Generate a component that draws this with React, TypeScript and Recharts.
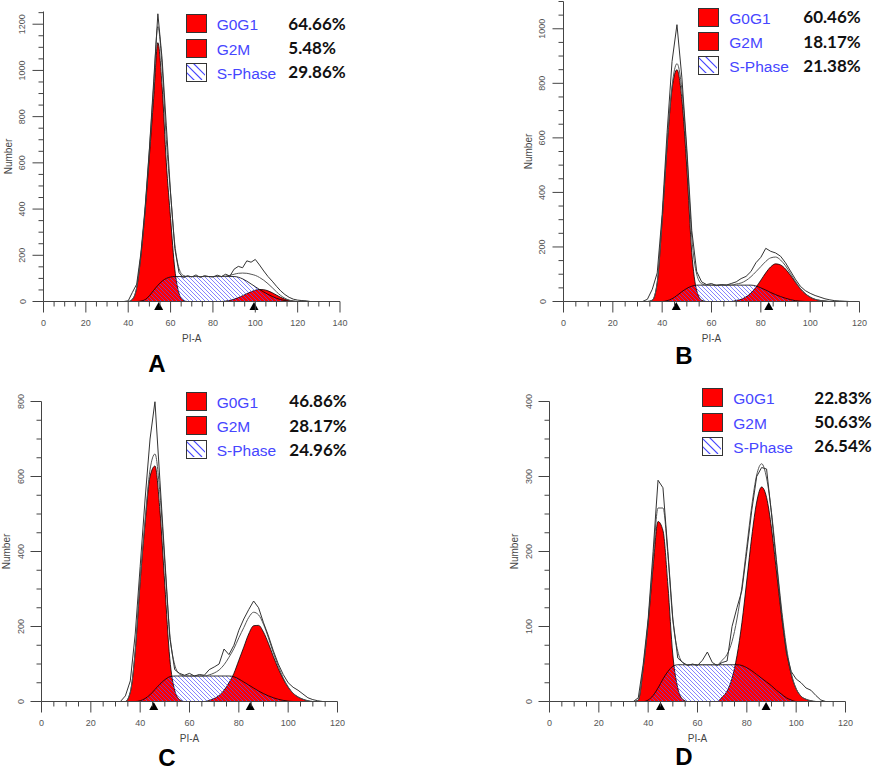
import { Area, ComposedChart, Line, ReferenceDot, XAxis, YAxis } from "recharts";

// PI-A channel grid of each histogram
const X_A = [36, 38, 40, 42, 44, 46, 48, 50, 52, 54, 56, 58, 60, 62, 64, 66, 68, 70, 72, 74, 76, 78, 80, 82, 84, 86, 88, 90, 92, 94, 96, 98, 100, 102, 104, 106, 108, 110, 112, 114, 116, 118, 120, 122, 124, 126, 128, 130];
const X_BCD = [30, 32, 34, 36, 38, 40, 42, 44, 46, 48, 50, 52, 54, 56, 58, 60, 62, 64, 66, 68, 70, 72, 74, 76, 78, 80, 82, 84, 86, 88, 90, 92, 94, 96, 98, 100, 102, 104, 106, 108, 110, 112, 114, 116, 118];

// panel A
const A_G0G1 = [0, 0, 0, 10, 60, 200, 395, 630, 880, 1120, 930, 600, 360, 140, 35, 5, 0, 0, 0, 0, 0, 0, 0, 0, 0, 0, 0, 0, 0, 0, 0, 0, 0, 0, 0, 0, 0, 0, 0, 0, 0, 0, 0, 0, 0, 0, 0, 0];
const A_S = [0, 0, 0, 0, 0, 2, 8, 25, 48, 70, 88, 100, 106, 108, 108, 108, 108, 108, 108, 108, 108, 108, 108, 108, 108, 108, 108, 108, 105, 98, 88, 76, 64, 52, 41, 31, 22, 14, 8, 4, 1, 0, 0, 0, 0, 0, 0, 0];
const A_G2M = [0, 0, 0, 0, 0, 0, 0, 0, 0, 0, 0, 0, 0, 0, 0, 0, 0, 0, 0, 0, 0, 0, 0, 0, 0, 2, 5, 10, 17, 25, 34, 42, 49, 52, 51, 46, 38, 28, 18, 10, 5, 2, 0, 0, 0, 0, 0, 0];
const A_FIT = [0, 0, 0, 10, 60, 202, 403, 655, 928, 1190, 1018, 700, 466, 248, 143, 113, 108, 108, 108, 108, 108, 108, 108, 108, 108, 110, 113, 118, 122, 123, 122, 118, 113, 104, 92, 77, 60, 42, 26, 14, 6, 2, 0, 0, 0, 0, 0, 0];
const A_RAW = [0, 0, 3, 40, 75, 210, 410, 660, 950, 1245, 1050, 760, 470, 230, 125, 102, 112, 106, 115, 104, 112, 108, 106, 114, 108, 118, 110, 140, 152, 146, 176, 170, 182, 158, 132, 108, 88, 66, 46, 30, 18, 10, 6, 4, 3, 0, 0, 0];

// panel B
const B_G0G1 = [0, 0, 0, 5, 70, 300, 570, 780, 850, 740, 490, 180, 40, 5, 0, 0, 0, 0, 0, 0, 0, 0, 0, 0, 0, 0, 0, 0, 0, 0, 0, 0, 0, 0, 0, 0, 0, 0, 0, 0, 0, 0, 0, 0, 0];
const B_S = [0, 0, 0, 0, 0, 0, 3, 10, 22, 36, 48, 56, 60, 60, 60, 60, 60, 60, 60, 60, 60, 60, 60, 60, 57, 50, 42, 33, 25, 18, 12, 7, 3, 1, 0, 0, 0, 0, 0, 0, 0, 0, 0, 0, 0];
const B_G2M = [0, 0, 0, 0, 0, 0, 0, 0, 0, 0, 0, 0, 0, 0, 0, 0, 0, 0, 0, 0, 4, 8, 17, 31, 52, 78, 105, 127, 138, 134, 119, 96, 71, 47, 29, 16, 8, 4, 2, 0, 0, 0, 0, 0, 0];
const B_FIT = [0, 0, 0, 5, 70, 300, 573, 790, 872, 776, 538, 236, 100, 65, 60, 60, 60, 60, 60, 60, 64, 68, 77, 91, 109, 128, 147, 160, 163, 152, 131, 103, 74, 48, 29, 16, 8, 4, 2, 0, 0, 0, 0, 0, 0];
const B_RAW = [0, 0, 8, 45, 105, 320, 620, 880, 1015, 820, 560, 260, 110, 72, 62, 66, 58, 62, 60, 66, 72, 84, 92, 110, 142, 162, 195, 184, 178, 166, 142, 112, 82, 56, 40, 30, 22, 16, 10, 6, 3, 2, 1, 0, 0];

// panel C
const C_G0G1 = [0, 0, 0, 25, 135, 320, 476, 600, 628, 510, 310, 115, 30, 5, 0, 0, 0, 0, 0, 0, 0, 0, 0, 0, 0, 0, 0, 0, 0, 0, 0, 0, 0, 0, 0, 0, 0, 0, 0, 0, 0, 0, 0, 0, 0];
const C_S = [0, 0, 0, 0, 0, 2, 8, 18, 32, 46, 58, 66, 68, 68, 68, 68, 68, 68, 68, 68, 68, 68, 68, 68, 66, 60, 52, 44, 36, 28, 21, 15, 10, 6, 3, 1, 0, 0, 0, 0, 0, 0, 0, 0, 0];
const C_G2M = [0, 0, 0, 0, 0, 0, 0, 0, 0, 0, 0, 0, 0, 0, 0, 0, 0, 0, 0, 3, 8, 16, 30, 50, 75, 110, 145, 180, 202, 203, 185, 155, 120, 88, 60, 38, 22, 12, 6, 2, 0, 0, 0, 0, 0];
const C_FIT = [0, 0, 0, 25, 135, 322, 484, 618, 660, 556, 368, 181, 98, 73, 68, 68, 68, 68, 68, 71, 76, 84, 98, 118, 141, 170, 197, 224, 238, 231, 206, 170, 130, 94, 63, 39, 22, 12, 6, 2, 0, 0, 0, 0, 0];
const C_RAW = [0, 0, 15, 55, 180, 360, 540, 700, 800, 590, 380, 170, 85, 75, 70, 75, 68, 72, 70, 85, 92, 100, 140, 125, 150, 190, 220, 245, 268, 250, 210, 175, 135, 100, 72, 50, 38, 30, 20, 10, 5, 2, 0, 0, 0];

// panel D
const D_G0G1 = [0, 0, 0, 2, 45, 105, 180, 240, 228, 155, 62, 18, 3, 0, 0, 0, 0, 0, 0, 0, 0, 0, 0, 0, 0, 0, 0, 0, 0, 0, 0, 0, 0, 0, 0, 0, 0, 0, 0, 0, 0, 0, 0, 0, 0];
const D_S = [0, 0, 0, 0, 0, 2, 8, 18, 30, 40, 47, 49, 49, 49, 49, 49, 49, 49, 49, 49, 49, 49, 49, 49, 48, 45, 41, 36, 31, 26, 21, 15, 10, 5, 2, 0, 0, 0, 0, 0, 0, 0, 0, 0, 0];
const D_G2M = [0, 0, 0, 0, 0, 0, 0, 0, 0, 0, 0, 0, 0, 0, 0, 0, 0, 0, 0, 0, 6, 14, 31, 61, 105, 162, 220, 266, 286, 272, 231, 174, 116, 69, 36, 17, 7, 3, 1, 0, 0, 0, 0, 0, 0];
const D_FIT = [0, 0, 0, 2, 45, 107, 188, 258, 258, 195, 109, 67, 52, 49, 49, 49, 49, 49, 49, 49, 55, 63, 80, 110, 153, 207, 261, 302, 317, 298, 252, 189, 126, 74, 38, 17, 7, 3, 1, 0, 0, 0, 0, 0, 0];
const D_RAW = [0, 0, 0, 5, 50, 110, 200, 295, 285, 200, 110, 58, 52, 48, 50, 48, 55, 66, 52, 48, 52, 54, 100, 125, 148, 200, 255, 300, 312, 310, 250, 185, 120, 65, 40, 30, 25, 18, 15, 8, 2, 0, 0, 0, 0];

// G0G1 / G2M peak markers
const A_MARKS = [54.4, 99.4];
const B_MARKS = [45.7, 83.2];
const C_MARKS = [45.5, 84.6];
const D_MARKS = [45, 87.8];

const X_TICKS_140 = [0, 5, 10, 15, 20, 25, 30, 35, 40, 45, 50, 55, 60, 65, 70, 75, 80, 85, 90, 95, 100, 105, 110, 115, 120, 125, 130, 135, 140];
const X_TICKS_120 = [0, 5, 10, 15, 20, 25, 30, 35, 40, 45, 50, 55, 60, 65, 70, 75, 80, 85, 90, 95, 100, 105, 110, 115, 120];
const Y_TICKS_A = [0, 50, 100, 150, 200, 250, 300, 350, 400, 450, 500, 550, 600, 650, 700, 750, 800, 850, 900, 950, 1000, 1050, 1100, 1150, 1200, 1250];
const Y_TICKS_B = [0, 50, 100, 150, 200, 250, 300, 350, 400, 450, 500, 550, 600, 650, 700, 750, 800, 850, 900, 950, 1000, 1050, 1100];
const Y_TICKS_C = [0, 50, 100, 150, 200, 250, 300, 350, 400, 450, 500, 550, 600, 650, 700, 750, 800];
const Y_TICKS_D = [0, 25, 50, 75, 100, 125, 150, 175, 200, 225, 250, 275, 300, 325, 350, 375, 400];

const PHASES = ["G0G1", "G2M", "S-Phase"];
const A_PCT = ["64.66%", "5.48%", "29.86%"];
const B_PCT = ["60.46%", "18.17%", "21.38%"];
const C_PCT = ["46.86%", "28.17%", "24.96%"];
const D_PCT = ["22.83%", "50.63%", "26.54%"];

const RED = "#ff0000";
const BLUE = "#4646ff";
const HATCH = "#5050ff";
const AXIS = "#444";
const FONT = '"Liberation Sans", Arial, sans-serif';
const YW = 40;
const XH = 45;

function XTick(props: any) {
  const { x, y, payload } = props;
  const major = payload.value % 20 === 0;
  return (
    <g>
      <line x1={x} x2={x} y1={y} y2={y + (major ? 11 : 5)} stroke={AXIS} />
      {major && (
        <text x={x} y={y + 24.5} textAnchor="middle" fontSize={9} fill="#555" fontFamily={FONT}>
          {payload.value}
        </text>
      )}
    </g>
  );
}

function YTick(props: any) {
  const { x, y, payload, step } = props;
  const major = payload.value % step === 0;
  const tx = x - 18;
  return (
    <g>
      <line x1={x - (major ? 11 : 5)} x2={x} y1={y} y2={y} stroke={AXIS} />
      {major && (
        <text
          x={tx}
          y={y}
          transform={`rotate(-90 ${tx} ${y})`}
          textAnchor="middle"
          fontSize={9}
          fill="#555"
          fontFamily={FONT}
        >
          {payload.value}
        </text>
      )}
    </g>
  );
}

const Marker = (p: any) => (
  <path d={`M${p.cx},${p.cy + 0.5} L${p.cx - 4.5},${p.cy + 8.5} L${p.cx + 4.5},${p.cy + 8.5} Z`} fill="#000" />
);

function Panel(p: any) {
  const rows = p.xs.map((x: number, i: number) => ({
    x,
    g1: p.g1[i],
    g2: p.g2[i],
    s: p.s[i],
    fit: p.fit[i],
    raw: p.raw[i],
  }));
  const margin = {
    left: p.plot.x - p.box.left - YW,
    top: p.plot.y - p.box.top,
    right: p.box.left + p.box.w - p.plot.x - p.plot.w,
    bottom: p.box.top + p.box.h - p.plot.y - p.plot.h - XH,
  };
  const hatch = `hatch-${p.id}`;
  return (
    <div style={{ position: "absolute", left: p.box.left, top: p.box.top }}>
      <ComposedChart width={p.box.w} height={p.box.h} data={rows} margin={margin} style={{ fontFamily: FONT }}>
        <defs>
          <pattern id={hatch} patternUnits="userSpaceOnUse" width={4} height={4}>
            <path d="M-1,-1 L5,5 M3,-1 L5,1 M-1,3 L1,5" stroke={HATCH} strokeWidth={0.7} />
          </pattern>
        </defs>
        <XAxis
          type="number"
          dataKey="x"
          domain={[0, p.xMax]}
          ticks={p.xTicks}
          interval={0}
          height={XH}
          tickSize={0}
          tickMargin={0}
          tickLine={false}
          axisLine={{ stroke: AXIS }}
          tick={(t: any) => <XTick {...t} />}
          allowDataOverflow
          label={{ value: "PI-A", position: "insideBottom", offset: 5, fontSize: 10, fill: "#444" }}
        />
        <YAxis
          type="number"
          domain={[0, p.yMax]}
          ticks={p.yTicks}
          interval={0}
          width={YW}
          tickSize={0}
          tickMargin={0}
          tickLine={false}
          axisLine={{ stroke: AXIS }}
          tick={(t: any) => <YTick {...t} step={p.yStep} />}
          allowDataOverflow
          label={{
            value: "Number",
            angle: -90,
            position: "insideLeft",
            offset: 4.5,
            fontSize: 10,
            fill: "#444",
            style: { textAnchor: "middle" },
          }}
        />
        <Area dataKey="g1" type="monotone" fill={RED} fillOpacity={1} stroke="#000" strokeWidth={0.8} dot={false} activeDot={false} isAnimationActive={false} />
        <Area dataKey="g2" type="monotone" fill={RED} fillOpacity={1} stroke="#000" strokeWidth={0.8} dot={false} activeDot={false} isAnimationActive={false} />
        <Area dataKey="s" type="monotone" fill={`url(#${hatch})`} fillOpacity={1} stroke="#000" strokeWidth={0.8} dot={false} activeDot={false} isAnimationActive={false} />
        <Line dataKey="fit" type="monotone" stroke="#555" strokeWidth={1} dot={false} activeDot={false} isAnimationActive={false} />
        <Line dataKey="raw" type="linear" stroke="#333" strokeWidth={1} dot={false} activeDot={false} isAnimationActive={false} />
        {p.marks.map((m: number) => (
          <ReferenceDot key={m} x={m} y={0} r={0} shape={Marker} ifOverflow="visible" />
        ))}
      </ComposedChart>
    </div>
  );
}

function PhaseLegend(p: any) {
  return (
    <>
      {PHASES.map((name, i) => {
        const top = p.top + i * 24.3;
        return (
          <div key={name}>
            <div
              style={{
                position: "absolute",
                left: p.box,
                top,
                width: 21,
                height: 19,
                boxSizing: "border-box",
                border: "1.5px solid #333",
                background: i < 2 ? RED : "#fff",
                overflow: "hidden",
              }}
            >
              {i === 2 && (
                <svg width={18} height={16} style={{ display: "block" }}>
                  <path d="M-2,-1 L15,16 M6,-1 L23,16 M-2,7 L8,17" stroke={BLUE} strokeWidth={1.2} />
                </svg>
              )}
            </div>
            <div
              style={{
                position: "absolute",
                left: p.text,
                top: top + 1,
                height: 19,
                lineHeight: "19px",
                fontSize: 15.5,
                color: BLUE,
                fontFamily: FONT,
                whiteSpace: "nowrap",
              }}
            >
              {name}
            </div>
            <div
              style={{
                position: "absolute",
                left: p.pct,
                top: top - 0.5,
                height: 19,
                lineHeight: "19px",
                fontSize: 17,
                fontWeight: 700,
                color: "#111",
                fontFamily: "Lato, sans-serif",
                whiteSpace: "nowrap",
              }}
            >
              {p.values[i]}
            </div>
          </div>
        );
      })}
    </>
  );
}

function Letter({ x, top, children }: any) {
  return (
    <div
      style={{
        position: "absolute",
        left: x - 20,
        top,
        width: 40,
        height: 18,
        textAlign: "center",
        fontFamily: FONT,
        fontWeight: 700,
        fontSize: 24,
        lineHeight: "18px",
        color: "#000",
      }}
    >
      {children}
    </div>
  );
}

export default function App() {
  return (
    <div style={{ position: "absolute", left: 0, top: 0, width: 880, height: 771, background: "#fff", overflow: "hidden" }}>
      <Panel
        id="a"
        box={{ left: 0, top: 0, w: 440, h: 390 }}
        plot={{ x: 43.5, y: 11.5, w: 296.5, h: 290 }}
        xMax={140}
        xTicks={X_TICKS_140}
        yMax={1255}
        yTicks={Y_TICKS_A}
        yStep={200}
        xs={X_A}
        g1={A_G0G1}
        g2={A_G2M}
        s={A_S}
        fit={A_FIT}
        raw={A_RAW}
        marks={A_MARKS}
      />
      <Panel
        id="b"
        box={{ left: 440, top: 0, w: 440, h: 390 }}
        plot={{ x: 563.5, y: 1.5, w: 296, h: 300 }}
        xMax={120}
        xTicks={X_TICKS_120}
        yMax={1100}
        yTicks={Y_TICKS_B}
        yStep={200}
        xs={X_BCD}
        g1={B_G0G1}
        g2={B_G2M}
        s={B_S}
        fit={B_FIT}
        raw={B_RAW}
        marks={B_MARKS}
      />
      <Panel
        id="c"
        box={{ left: 0, top: 390, w: 440, h: 381 }}
        plot={{ x: 41.5, y: 401.5, w: 296, h: 300 }}
        xMax={120}
        xTicks={X_TICKS_120}
        yMax={800}
        yTicks={Y_TICKS_C}
        yStep={200}
        xs={X_BCD}
        g1={C_G0G1}
        g2={C_G2M}
        s={C_S}
        fit={C_FIT}
        raw={C_RAW}
        marks={C_MARKS}
      />
      <Panel
        id="d"
        box={{ left: 440, top: 390, w: 440, h: 381 }}
        plot={{ x: 549.5, y: 401.5, w: 296, h: 300 }}
        xMax={120}
        xTicks={X_TICKS_120}
        yMax={400}
        yTicks={Y_TICKS_D}
        yStep={100}
        xs={X_BCD}
        g1={D_G0G1}
        g2={D_G2M}
        s={D_S}
        fit={D_FIT}
        raw={D_RAW}
        marks={D_MARKS}
      />

      <PhaseLegend box={186} text={216.7} pct={288.3} top={14.3} values={A_PCT} />
      <PhaseLegend box={698.3} text={729.3} pct={803.3} top={7.7} values={B_PCT} />
      <PhaseLegend box={185.7} text={216.7} pct={289.3} top={391.7} values={C_PCT} />
      <PhaseLegend box={702.3} text={733.3} pct={814.3} top={388.3} values={D_PCT} />

      <Letter x={157} top={354.7}>A</Letter>
      <Letter x={684} top={346.7}>B</Letter>
      <Letter x={167} top={748.7}>C</Letter>
      <Letter x={684} top={747.7}>D</Letter>
    </div>
  );
}
